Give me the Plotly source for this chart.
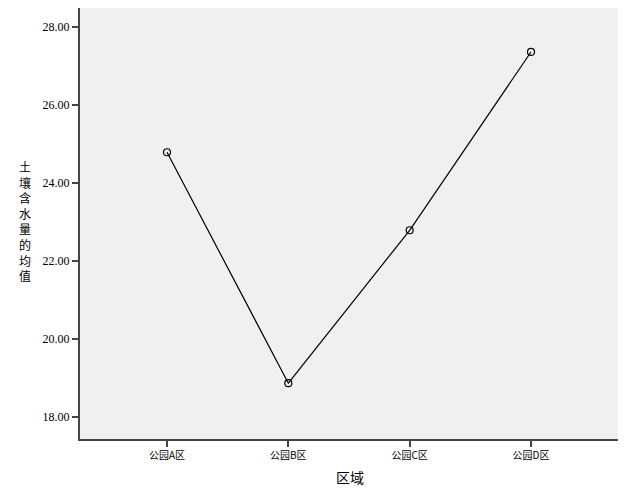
import plotly.graph_objects as go

categories = ["公园A区", "公园B区", "公园C区", "公园D区"]
means = [24.79, 18.87, 22.79, 27.36]
y_ticks = [18, 20, 22, 24, 26, 28]
y_tick_labels = ["18.00", "20.00", "22.00", "24.00", "26.00", "28.00"]
y_title = "土壤含水量的均值"
x_title = "区域"

# page has an 8px body margin; figure is sized to fit the 626x501 window
W, H = 618, 493
L, R, T, B = 72, 8, 0, 62
plot_h = H - T - B

fig = go.Figure()
fig.add_trace(go.Scatter(
    x=list(range(len(categories))), y=means, mode="lines+markers",
    line=dict(color="black", width=1.2),
    marker=dict(symbol="circle-open", size=7, color="black", line=dict(width=1.2)),
    showlegend=False, hoverinfo="skip"))

fig.update_layout(
    width=W, height=H,
    margin=dict(l=L, r=R, t=T, b=B, autoexpand=False),
    paper_bgcolor="white", plot_bgcolor="#F0F0F0",
    font=dict(family="Noto Sans CJK SC", color="black"),
    xaxis=dict(range=[-0.717, 3.717], tickmode="array",
               tickvals=list(range(len(categories))), ticktext=categories,
               showgrid=False, zeroline=False, showline=True, mirror=True,
               linecolor="#444444", linewidth=2, ticks="outside", ticklen=6,
               tickwidth=2, tickcolor="#444444",
               tickfont=dict(size=10, family="Noto Sans CJK SC")),
    yaxis=dict(range=[17.44, 28.487], tickmode="array", tickvals=y_ticks,
               ticktext=y_tick_labels, showgrid=False, zeroline=False,
               showline=True, mirror=True, linecolor="#444444", linewidth=2,
               ticks="outside", ticklen=6, tickwidth=2, tickcolor="#444444",
               tickfont=dict(size=12, family="Liberation Serif")),
)

# vertical stacked y-axis title
fig.add_annotation(text="<br>".join(y_title), xref="paper", yref="paper",
                   x=-0.102, y=(H - B - (221 - 8)) / plot_h,
                   xanchor="center", yanchor="middle", showarrow=False,
                   align="center",
                   font=dict(size=12, family="Noto Sans CJK SC"))

fig.add_annotation(text=x_title, xref="paper", yref="paper",
                   x=0.502, y=(H - B - (477 - 8)) / plot_h,
                   xanchor="center", yanchor="middle", showarrow=False,
                   font=dict(size=14, family="Noto Sans CJK SC"))

fig.write_html("out.html")
